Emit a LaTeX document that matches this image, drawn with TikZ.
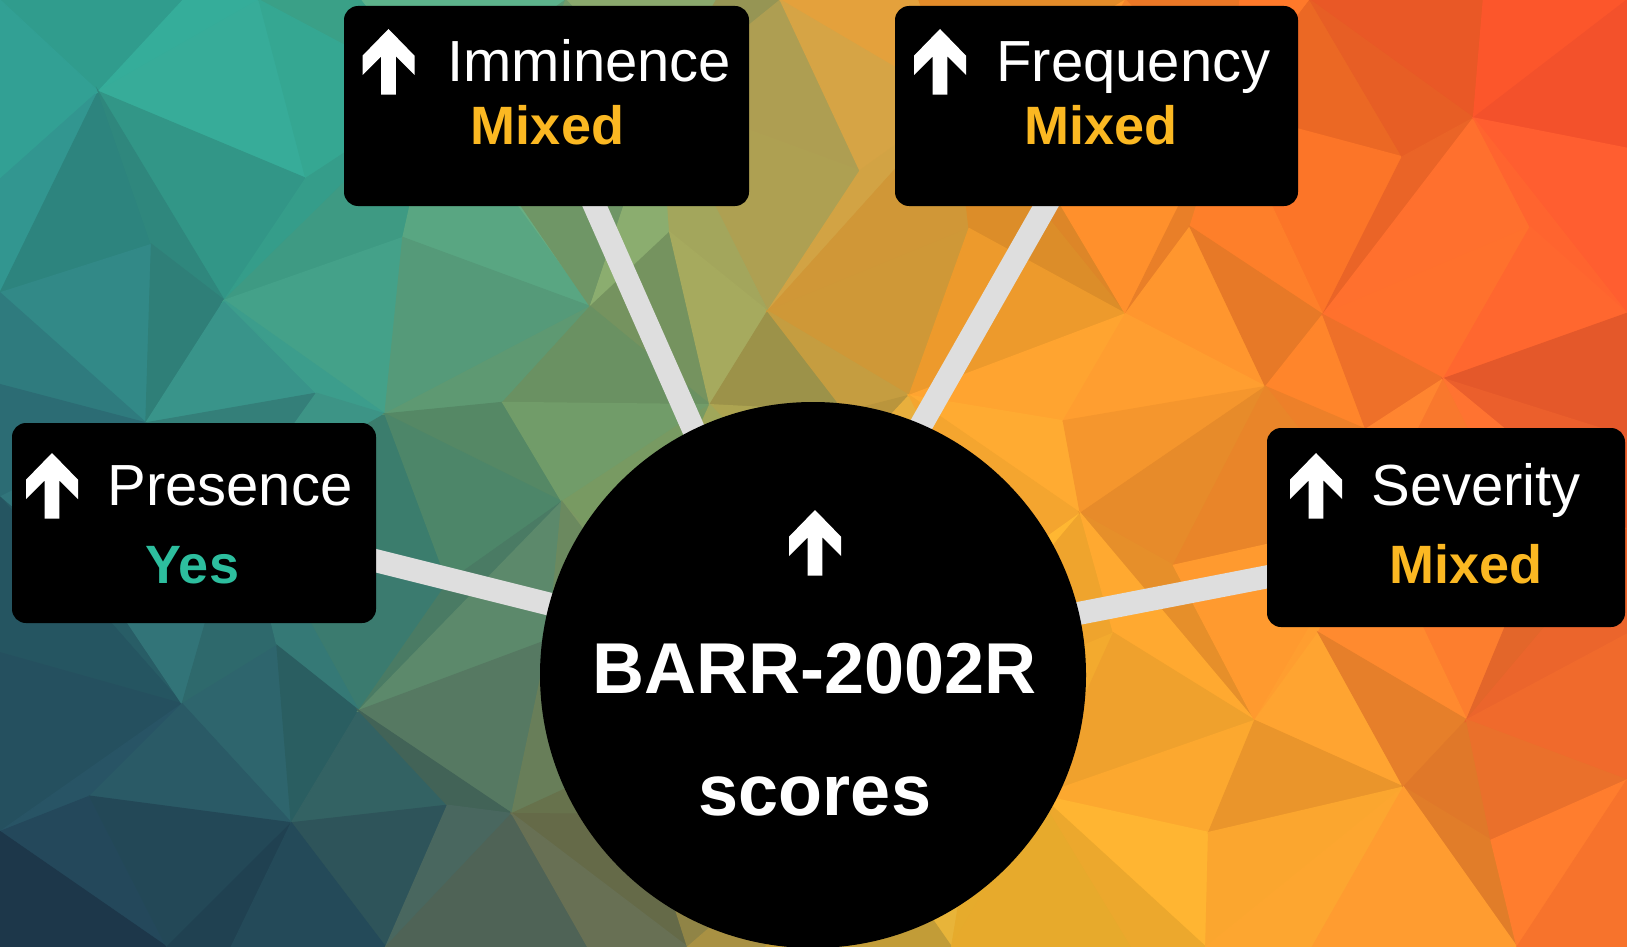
\documentclass[tikz,border=0pt]{standalone}
\usepackage{fontspec}
\setmainfont{Liberation Sans}
\usetikzlibrary{calc}
\definecolor{connc}{HTML}{DEDEDE}
\definecolor{yescol}{RGB}{45,190,158}
\definecolor{mixcol}{RGB}{251,184,34}
% background palette: columns at u = 0, .2, .4, .6, .8, 1 ; rows top / middle / bottom
\def\RT{{46,54,143,232,251,249}}
\def\GT{{154,179,166,144,106,74}}
\def\BT{{140,155,106,42,38,44}}
\def\RM{{45,58,122,247,251,248}}
\def\GM{{107,138,154,168,138,96}}
\def\BM{{120,124,96,48,44,48}}
\def\RB{{28,36,110,252,249,228}}
\def\GB{{50,72,106,192,168,100}}
\def\BB{{72,90,72,48,48,40}}
\newcommand\bgchan[4]{%
  \pgfmathsetmacro\bgTop{#1[\bgK]*(1-\bgT)+#1[\bgKK]*\bgT}%
  \pgfmathsetmacro\bgMid{#2[\bgK]*(1-\bgT)+#2[\bgKK]*\bgT}%
  \pgfmathsetmacro\bgBot{#3[\bgK]*(1-\bgT)+#3[\bgKK]*\bgT}%
  \pgfmathsetmacro\bgVal{(\bgV<0.5)*(\bgTop*(1-2*\bgV)+\bgMid*2*\bgV)+(\bgV>=0.5)*(\bgMid*(2-2*\bgV)+\bgBot*(2*\bgV-1))}%
  \pgfmathtruncatemacro#4{min(255,max(0,\bgVal*\bgF))}%
}
\newcommand\bgsetcolor[3]{% u, v, shade factor
  \pgfmathsetmacro\bgU{min(max(#1,0),0.9999)*5}%
  \pgfmathtruncatemacro\bgK{floor(\bgU)}%
  \pgfmathtruncatemacro\bgKK{\bgK+1}%
  \pgfmathsetmacro\bgT{\bgU-\bgK}%
  \pgfmathsetmacro\bgV{min(max(#2,0),1)}%
  \pgfmathsetmacro\bgF{#3}%
  \bgchan{\RT}{\RM}{\RB}{\bgRr}%
  \bgchan{\GT}{\GM}{\GB}{\bgGg}%
  \bgchan{\BT}{\BM}{\BB}{\bgBb}%
  \definecolor{bgc}{RGB}{\bgRr,\bgGg,\bgBb}%
}
\tikzset{
  box/.style={fill=black, rounded corners=7pt, inner sep=0pt, draw=none},
  title/.style={text=white, font=\fontsize{29}{34}\selectfont, inner sep=0pt},
  val/.style={font=\bfseries\fontsize{27}{32}\selectfont, inner sep=0pt},
  big/.style={text=white, font=\bfseries\fontsize{36}{42}\selectfont, inner sep=0pt},
  conn/.style={draw=connc, line width=11.5pt},
  uparrow/.pic={\fill[white] (0,0) -- (26,26.7) -- (26,46) -- (7.3,27.3) -- (7.3,65.7)
     -- (-7.3,65.7) -- (-7.3,27.3) -- (-26,46) -- (-26,26.7) -- cycle;}
}
\begin{document}
\begin{tikzpicture}[x=0.5pt,y=-0.5pt]
\useasboundingbox (0,0) rectangle (1627,947);
% ---------- low-poly background ----------
\begin{scope}
\clip (0,0) rectangle (1627,947);
\foreach \i in {0,...,12}{
  \foreach \j in {0,...,7}{
    \pgfmathsetmacro\jx{48*sin(\i*97.3+\j*211.7)*(\i>0)*(\i<12)}
    \pgfmathsetmacro\jy{44*sin(\i*173.9+\j*59.3+31)*(\j>0)*(\j<7)}
    \pgfmathsetmacro\vxx{\i*135.583+\jx}
    \pgfmathsetmacro\vyy{\j*135.286+\jy}
    \coordinate (v-\i-\j) at (\vxx,\vyy);
  }
}
\foreach \i in {0,...,11}{
  \foreach \j in {0,...,6}{
    \pgfmathtruncatemacro\ii{\i+1}
    \pgfmathtruncatemacro\jj{\j+1}
    \pgfmathtruncatemacro\parity{mod(\i+\j,2)}
    \pgfmathsetmacro\fa{1+0.08*sin(\i*131.7+\j*71.3)}
    \pgfmathsetmacro\fb{1+0.08*sin(\i*57.1+\j*143.9+77)}
    \ifnum\parity=0
      \bgsetcolor{(\i+0.667)/12}{(\j+0.333)/7}{\fa}
      \fill[bgc, draw=bgc, line width=0.6pt] (v-\i-\j) -- (v-\ii-\j) -- (v-\ii-\jj) -- cycle;
      \bgsetcolor{(\i+0.333)/12}{(\j+0.667)/7}{\fb}
      \fill[bgc, draw=bgc, line width=0.6pt] (v-\i-\j) -- (v-\ii-\jj) -- (v-\i-\jj) -- cycle;
    \else
      \bgsetcolor{(\i+0.333)/12}{(\j+0.333)/7}{\fa}
      \fill[bgc, draw=bgc, line width=0.6pt] (v-\i-\j) -- (v-\ii-\j) -- (v-\i-\jj) -- cycle;
      \bgsetcolor{(\i+0.667)/12}{(\j+0.667)/7}{\fb}
      \fill[bgc, draw=bgc, line width=0.6pt] (v-\ii-\j) -- (v-\ii-\jj) -- (v-\i-\jj) -- cycle;
    \fi
  }
}
\end{scope}
% ---------- connector end points ----------
\coordinate (pA) at (341,552);  \coordinate (pB) at (813,670);
\coordinate (iA) at (586,186);  \coordinate (iB) at (802,675);
\coordinate (fA) at (1057,186); \coordinate (fB) at (779,675);
\coordinate (sA) at (1297,571); \coordinate (sB) at (813,665);
\draw[conn] (pA) -- (pB);
\draw[conn] (iA) -- (iB);
\draw[conn] (fA) -- (fB);
\draw[conn] (sA) -- (sB);
% ---------- boxes ----------
\node[box, minimum width=182pt, minimum height=100pt] (pres) at (194,523) {};
\node[box, minimum width=202.5pt, minimum height=100pt] (imm) at (546.5,106) {};
\node[box, minimum width=201.5pt, minimum height=100pt] (freq) at (1096.5,106) {};
\node[box, minimum width=179pt, minimum height=99.5pt] (sev) at (1446,527.5) {};
\node[circle, fill=black, inner sep=0pt, minimum size=273pt] (circ) at (813,675) {};
% ---------- arrows ----------
\pic at (52,453) {uparrow};
\pic at (388.5,29) {uparrow};
\pic at (940,29) {uparrow};
\pic at (1316,453) {uparrow};
\pic at (815,510) {uparrow};
% ---------- texts ----------
\node[title, anchor=base west] (presT) at (107,505) {Presence};
\node[val, text=yescol, anchor=base] (presV) at (192.5,583) {Yes};
\node[title, anchor=base west] (immT) at (447,82) {Imminence};
\node[val, text=mixcol, anchor=base] (immV) at (547.5,145) {Mixed};
\node[title, anchor=base west] (freqT) at (996,82) {Frequency};
\node[val, text=mixcol, anchor=base] (freqV) at (1101,145) {Mixed};
\node[title, anchor=base west] (sevT) at (1371,505) {Severity};
\node[val, text=mixcol, anchor=base] (sevV) at (1466,583) {Mixed};
\node[big, anchor=base] (circT1) at (815,693) {BARR-2002R};
\node[big, anchor=base] (circT2) at (815,815) {scores};
\end{tikzpicture}
\end{document}
